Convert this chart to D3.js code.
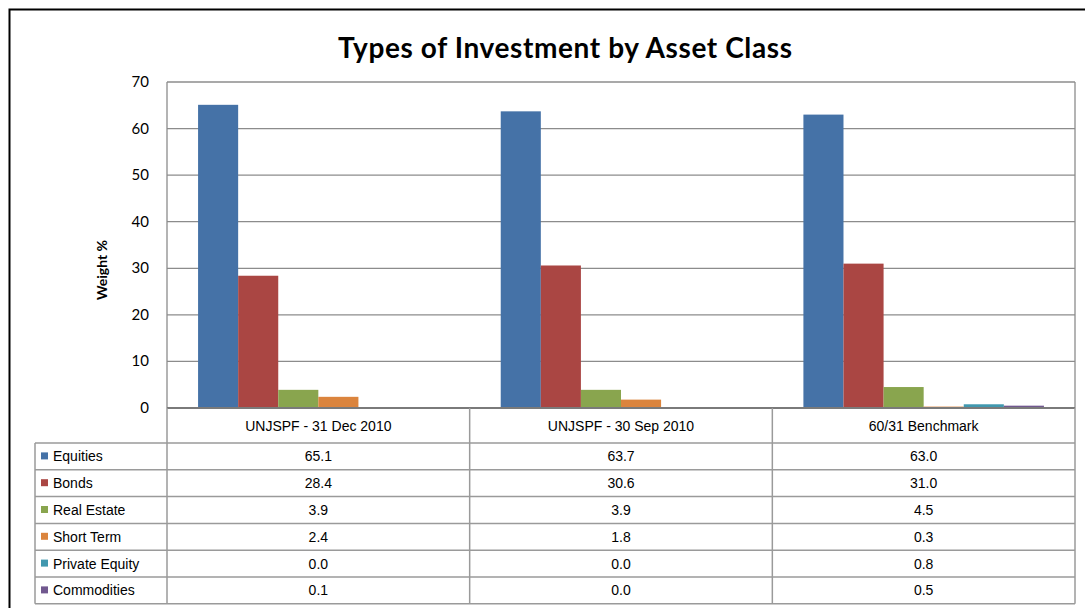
<!DOCTYPE html>
<html>
<head>
<meta charset="utf-8">
<script src="https://cdn.jsdelivr.net/npm/d3@7"></script>
<style>
  body { margin: 0; background: #fff; }
  svg { display: block; }
</style>
</head>
<body>
<div id="chart"></div>
<script>
// data
const categories = ["UNJSPF - 31 Dec 2010", "UNJSPF - 30 Sep 2010", "60/31 Benchmark"];
const seriesNames = ["Equities", "Bonds", "Real Estate", "Short Term", "Private Equity", "Commodities"];
const equities = [65.1, 63.7, 63.0];
const bonds = [28.4, 30.6, 31.0];
const realEstate = [3.9, 3.9, 4.5];
const shortTerm = [2.4, 1.8, 0.3];
const privateEquity = [0.0, 0.0, 0.8];
const commodities = [0.1, 0.0, 0.5];
const seriesColors = ["#4572A7", "#AA4643", "#89A54E", "#DB843D", "#4198AF", "#71588F"];
const yTicks = [0, 10, 20, 30, 40, 50, 60, 70];

const seriesValues = [equities, bonds, realEstate, shortTerm, privateEquity, commodities];

const W = 1085, H = 608;
const plot = { left: 167, right: 1075, top: 82, bottom: 408 };
const table = { left: 35, headerBottom: 443, rowH: 26.8 };

const svg = d3.select("#chart").append("svg")
    .attr("width", W)
    .attr("height", H);

// outer chart border
svg.append("rect")
    .attr("x", 9.5).attr("y", 9.5)
    .attr("width", W).attr("height", H)
    .attr("fill", "#fff")
    .attr("stroke", "#000")
    .attr("stroke-width", 2);

// title
svg.append("text")
    .attr("x", 338).attr("y", 58)
    .attr("textLength", 454)
    .attr("lengthAdjust", "spacing")
    .attr("font-family", "Lato, 'Open Sans', sans-serif")
    .attr("font-weight", "bold")
    .attr("font-size", 28)
    .attr("fill", "#000")
    .text("Types of Investment by Asset Class");

// scales
const x = d3.scaleBand()
    .domain(categories)
    .range([plot.left, plot.right]);

const x1 = d3.scaleBand()
    .domain(seriesNames)
    .range([0, x.bandwidth()])
    .paddingInner(0)
    .paddingOuter(0.775);

const y = d3.scaleLinear()
    .domain([0, 70])
    .range([plot.bottom, plot.top]);

// gridlines
svg.append("g")
    .selectAll("line")
    .data(yTicks.filter(d => d > 0))
    .join("line")
    .attr("x1", plot.left).attr("x2", plot.right)
    .attr("y1", d => y(d)).attr("y2", d => y(d))
    .attr("stroke", "#8c8c8c")
    .attr("stroke-width", 1.3);

// plot frame sides
svg.append("line")
    .attr("x1", plot.left).attr("x2", plot.left)
    .attr("y1", plot.top).attr("y2", plot.bottom)
    .attr("stroke", "#8c8c8c").attr("stroke-width", 1.3);
svg.append("line")
    .attr("x1", plot.right).attr("x2", plot.right)
    .attr("y1", plot.top).attr("y2", plot.bottom)
    .attr("stroke", "#8c8c8c").attr("stroke-width", 1.3);

// y tick labels
svg.append("g")
    .selectAll("text")
    .data(yTicks)
    .join("text")
    .attr("x", 149)
    .attr("y", d => y(d) + 5)
    .attr("text-anchor", "end")
    .attr("font-family", "Lato, 'Open Sans', sans-serif")
    .attr("font-size", 15)
    .attr("fill", "#000")
    .text(d => d);

// y axis title
svg.append("text")
    .attr("transform", "translate(107,270) rotate(-90)")
    .attr("text-anchor", "middle")
    .attr("font-family", "Lato, 'Open Sans', sans-serif")
    .attr("font-weight", "bold")
    .attr("font-size", 14)
    .attr("fill", "#000")
    .text("Weight %");

// bars
const groups = svg.append("g")
    .selectAll("g")
    .data(categories)
    .join("g")
    .attr("transform", d => `translate(${x(d)},0)`);

groups.selectAll("rect")
    .data((c, ci) => seriesNames.map((s, si) => ({ s, v: seriesValues[si][ci], color: seriesColors[si] })))
    .join("rect")
    .attr("x", d => x1(d.s))
    .attr("width", x1.bandwidth())
    .attr("y", d => y(d.v))
    .attr("height", d => y(0) - y(d.v))
    .attr("fill", d => d.color);

// data table
const tableBottom = table.headerBottom + table.rowH * seriesNames.length;
const lineColor = "#9a9a9a";

// baseline / header top
svg.append("line")
    .attr("x1", plot.left).attr("x2", plot.right)
    .attr("y1", y(0)).attr("y2", y(0))
    .attr("stroke", "#7a7a7a").attr("stroke-width", 2);

// vertical column lines
const colEdges = categories.map(c => x(c)).concat([plot.right]);
svg.append("g")
    .selectAll("line")
    .data(colEdges)
    .join("line")
    .attr("x1", d => d).attr("x2", d => d)
    .attr("y1", y(0)).attr("y2", tableBottom)
    .attr("stroke", lineColor).attr("stroke-width", 1.5);

svg.append("line")
    .attr("x1", table.left).attr("x2", table.left)
    .attr("y1", table.headerBottom).attr("y2", tableBottom)
    .attr("stroke", lineColor).attr("stroke-width", 1.5);

// horizontal row lines
svg.append("g")
    .selectAll("line")
    .data(d3.range(seriesNames.length + 1))
    .join("line")
    .attr("x1", table.left).attr("x2", plot.right)
    .attr("y1", i => table.headerBottom + i * table.rowH)
    .attr("y2", i => table.headerBottom + i * table.rowH)
    .attr("stroke", lineColor).attr("stroke-width", 1.5);

const tableFont = "'Liberation Sans', Arial, sans-serif";

// header labels
svg.append("g")
    .selectAll("text")
    .data(categories)
    .join("text")
    .attr("x", d => x(d) + x.bandwidth() / 2)
    .attr("y", 431)
    .attr("text-anchor", "middle")
    .attr("font-family", tableFont)
    .attr("font-size", 14)
    .attr("fill", "#000")
    .text(d => d);

// row legend keys and names
const rows = svg.append("g")
    .selectAll("g")
    .data(seriesNames)
    .join("g")
    .attr("transform", (d, i) => `translate(0,${table.headerBottom + i * table.rowH})`);

rows.append("rect")
    .attr("x", 41).attr("y", table.rowH / 2 - 4)
    .attr("width", 7).attr("height", 7)
    .attr("fill", (d, i) => seriesColors[i]);

rows.append("text")
    .attr("x", 53)
    .attr("y", table.rowH / 2 + 5)
    .attr("font-family", tableFont)
    .attr("font-size", 14)
    .attr("fill", "#000")
    .text(d => d);

rows.selectAll("text.val")
    .data((s, si) => categories.map((c, ci) => ({ c, v: seriesValues[si][ci] })))
    .join("text")
    .attr("class", "val")
    .attr("x", d => x(d.c) + x.bandwidth() / 2)
    .attr("y", table.rowH / 2 + 5)
    .attr("text-anchor", "middle")
    .attr("font-family", tableFont)
    .attr("font-size", 14)
    .attr("fill", "#000")
    .text(d => d3.format(".1f")(d.v));
</script>
</body>
</html>
